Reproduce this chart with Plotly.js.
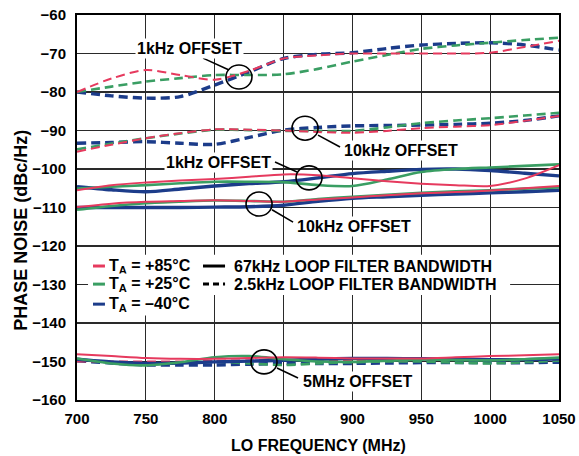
<!DOCTYPE html>
<html>
<head>
<meta charset="utf-8">
<script src="https://cdn.plot.ly/plotly-3.0.1.min.js"></script>
<style>html,body{margin:0;padding:0;background:#fff;}#chart{width:579px;height:456px;}</style>
</head>
<body>
<div id="chart"></div>
<script>
// LO frequency (MHz)
const freq = [700,725,750,775,800,825,850,875,900,925,950,975,1000,1025,1050];

// 2.5kHz loop filter bandwidth (dashed), 1kHz offset
const red_1k_dash   = [-80,-76.5,-74.3,-75.6,-76.8,-74.5,-71.3,-70.5,-70,-70,-70,-70,-69.8,-68.3,-66.7];
const green_1k_dash = [-80,-78.6,-77.3,-76.4,-75.6,-75.6,-75.4,-74,-72.1,-70.4,-68.8,-67.9,-67.2,-66.5,-65.9];
const blue_1k_dash  = [-80,-81,-81.6,-81.2,-78.2,-74.8,-71.3,-70.2,-69.8,-68.7,-67.8,-67.4,-67.2,-67.8,-69.1];

// 2.5kHz loop filter bandwidth (dashed), 10kHz offset
const red_10k_dash   = [-95.5,-93.7,-92,-90.7,-89.7,-89.8,-90,-90.4,-90.6,-90.1,-89.4,-89,-88.6,-87.5,-86.2];
const green_10k_dash = [-94.9,-93.4,-92,-90.8,-89.8,-89.9,-90.1,-90.1,-90.1,-89.2,-88.1,-87.4,-86.8,-86.1,-85.4];
const blue_10k_dash  = [-93.3,-93.1,-92.9,-93.3,-93.6,-91.8,-89.9,-89.2,-88.8,-88.7,-88.6,-88.4,-88.1,-87.4,-86.2];

// 67kHz loop filter bandwidth (solid), 1kHz offset
const red_1k_solid   = [-105.5,-104.2,-103.5,-103,-102.6,-102,-101.4,-101.6,-102.4,-103.2,-103.8,-104.2,-104.4,-102.5,-99];
const green_1k_solid = [-105.1,-104.6,-104.2,-103.7,-103.3,-103.3,-103.4,-104.2,-104.4,-102.7,-100.8,-100,-99.6,-99.2,-98.8];
const blue_1k_solid  = [-104.6,-105.4,-105.9,-105.2,-104.4,-103.8,-103.3,-102.3,-101.2,-100.6,-100.1,-100,-100.4,-101.1,-101.8];

// 67kHz loop filter bandwidth (solid), 10kHz offset
const red_10k_solid   = [-109.9,-109,-108.5,-108.3,-108.1,-108.3,-108.5,-107.9,-107.4,-106.8,-106.3,-106,-105.6,-105,-104.4];
const green_10k_solid = [-110.6,-109.6,-108.9,-108.5,-108.2,-108.3,-108.5,-107.8,-107.2,-106.7,-106.2,-105.8,-105.5,-105.1,-104.8];
const blue_10k_solid  = [-110,-110,-110,-110,-109.9,-109.8,-109.4,-108.4,-107.6,-107.2,-106.8,-106.5,-106.2,-105.9,-105.5];

// 5MHz offset
const red_5m_solid    = [-148.1,-148.6,-149.1,-149.3,-149.3,-149.1,-148.9,-149,-149.2,-149.2,-149.2,-148.9,-148.6,-148.4,-148.1];
const green_5m_solid  = [-149.2,-150.5,-151,-150.2,-148.9,-148.6,-149.4,-150,-150.1,-149.8,-149.5,-149.6,-149.7,-149.4,-149];
const blue_5m_solid   = [-149.4,-150.1,-150.5,-150.4,-150.1,-149.9,-149.7,-149.4,-149.2,-149.2,-149.3,-149.4,-149.5,-149.5,-149.3];
const red_5m_dash     = [-150,-150,-150,-150,-149.8,-149.7,-149.6,-149.7,-149.8,-149.7,-149.6,-149.5,-149.4,-149.4,-149.4];
const green_5m_dash   = [-149.6,-150.2,-150.5,-150.3,-150,-150.5,-150.9,-150.5,-150.2,-150,-150,-150.3,-150.5,-150.2,-149.8];
const blue_5m_dash    = [-149.8,-150.4,-150.9,-150.9,-150.9,-150.7,-150.5,-150.5,-150.5,-150.4,-150.3,-150.3,-150.3,-150.3,-150.2];

// texts
const xTitle = "LO FREQUENCY (MHz)";
const yTitle = "PHASE NOISE (dBc/Hz)";
const legendTemps = ["T<sub>A</sub> = +85°C", "T<sub>A</sub> = +25°C", "T<sub>A</sub> = –40°C"];
const legendBW = ["67kHz LOOP FILTER BANDWIDTH", "2.5kHz LOOP FILTER BANDWIDTH"];

const RED = "#E63A5E", GREEN = "#3A9E63", BLUE = "#1C3C8A";
const FONT = "Arial, 'Liberation Sans', Helvetica, sans-serif";
const DASH = "9px,5px";

const styles = {
  red:   {color: RED, width: 2},
  green: {color: GREEN, width: 2.6},
  blue:  {color: BLUE, width: 3.4}
};

function tr(y, c, dashed) {
  return {
    x: freq, y: y, type: "scatter", mode: "lines", showlegend: false, hoverinfo: "skip",
    line: {color: styles[c].color, width: styles[c].width, dash: dashed ? DASH : "solid", shape: "spline", smoothing: 0.8}
  };
}

const data = [
  tr(blue_5m_dash, "blue", true), tr(green_5m_dash, "green", true), tr(red_5m_dash, "red", true),
  tr(blue_5m_solid, "blue", false), tr(green_5m_solid, "green", false), tr(red_5m_solid, "red", false),
  tr(blue_10k_solid, "blue", false), tr(green_10k_solid, "green", false), tr(red_10k_solid, "red", false),
  tr(blue_1k_solid, "blue", false), tr(green_1k_solid, "green", false), tr(red_1k_solid, "red", false),
  tr(blue_10k_dash, "blue", true), tr(green_10k_dash, "green", true), tr(red_10k_dash, "red", true),
  tr(blue_1k_dash, "blue", true), tr(green_1k_dash, "green", true), tr(red_1k_dash, "red", true)
];

function circ(x, y) {
  return {type: "circle", xref: "x", yref: "y", xsizemode: "pixel", ysizemode: "pixel",
    xanchor: x, yanchor: y, x0: -13, x1: 13, y0: -12, y1: 12, layer: "above",
    line: {color: "#000", width: 1.6}, fillcolor: "rgba(0,0,0,0)"};
}
function seg(x0, y0, x1, y1) {
  return {type: "line", xref: "x", yref: "y", x0: x0, y0: y0, x1: x1, y1: y1, layer: "above",
    line: {color: "#000", width: 1.6}};
}
function rect(x0, y0, x1, y1) {
  return {type: "rect", xref: "x", yref: "y", x0: x0, y0: y0, x1: x1, y1: y1, layer: "above",
    line: {width: 0}, fillcolor: "#fff"};
}
function sample(x0, x1, y, color, dash) {
  return {type: "line", xref: "x", yref: "y", x0: x0, x1: x1, y0: y, y1: y, layer: "above",
    line: {color: color, width: 3, dash: dash || "solid"}};
}

const shapes = [
  rect(708, -122.3, 1014.5, -132.7),
  rect(708, -132.7, 782, -137.8),
  circ(817.6, -76.1), seg(791.5, -71.2, 810.4, -74.3),
  circ(865.6, -89.4), seg(875, -91.2, 891, -94.3),
  circ(868.5, -102.3), seg(843.8, -98.2, 859.8, -100.8),
  circ(832.2, -109.1), seg(841.6, -110.6, 856.9, -113.8),
  circ(835.8, -150.1), seg(845.2, -151.7, 860.5, -154.3),
  sample(711.6, 720.3, -125.2, RED),
  sample(711.6, 720.3, -129.9, GREEN),
  sample(711.6, 720.3, -135.1, BLUE),
  sample(791.5, 807.5, -125.2, "#000"),
  sample(791.5, 807.5, -129.9, "#000", "6px,4px")
];

const af = {family: FONT, size: 16, color: "#000", weight: 700};
function lab(text, x, y, xanchor) {
  return {text: text, x: x, y: y, xref: "x", yref: "y", showarrow: false,
    xanchor: xanchor || "center", yanchor: "middle", font: af, bgcolor: "#fff", borderpad: 1};
}
const annotations = [
  lab("1kHz OFFSET", 782, -68.6),
  lab("10kHz OFFSET", 935.3, -95.1),
  lab("1kHz OFFSET", 803, -98.2),
  lab("10kHz OFFSET", 900.8, -115),
  lab("5MHz OFFSET", 903.7, -155.1),
  lab(legendTemps[0], 721.8, -125.2, "left"),
  lab(legendTemps[1], 721.8, -129.9, "left"),
  lab(legendTemps[2], 721.8, -135.1, "left"),
  lab(legendBW[0], 812.6, -125.2, "left"),
  lab(legendBW[1], 812.6, -129.9, "left"),
  {text: yTitle, xref: "paper", yref: "paper", x: -0.116, y: 0.44, textangle: -90, showarrow: false,
   xanchor: "center", yanchor: "middle", font: {family: FONT, size: 18, color: "#000", weight: 700}},
  {text: xTitle, xref: "paper", yref: "paper", x: 0.5, y: -0.117, showarrow: false,
   xanchor: "center", yanchor: "middle", font: {family: FONT, size: 16, color: "#000", weight: 700}}
];

const axisCommon = {
  showgrid: true, gridcolor: "#2a2a2a", gridwidth: 1.2, zeroline: false,
  showline: true, mirror: true, linecolor: "#000", linewidth: 2,
  ticks: "", tickfont: {family: FONT, size: 15, color: "#000", weight: 700},
  fixedrange: true
};

const layout = {
  width: 579, height: 456,
  margin: {l: 77, r: 20, t: 15, b: 56, pad: 0},
  paper_bgcolor: "#fff", plot_bgcolor: "#fff",
  showlegend: false,
  xaxis: Object.assign({}, axisCommon, {range: [700, 1050], tick0: 700, dtick: 50, ticklabelstandoff: 4}),
  yaxis: Object.assign({}, axisCommon, {range: [-160, -60], tick0: -160, dtick: 10, ticklabelstandoff: 6}),
  shapes: shapes,
  annotations: annotations
};

Plotly.newPlot("chart", data, layout, {displayModeBar: false, staticPlot: true});
</script>
</body>
</html>
